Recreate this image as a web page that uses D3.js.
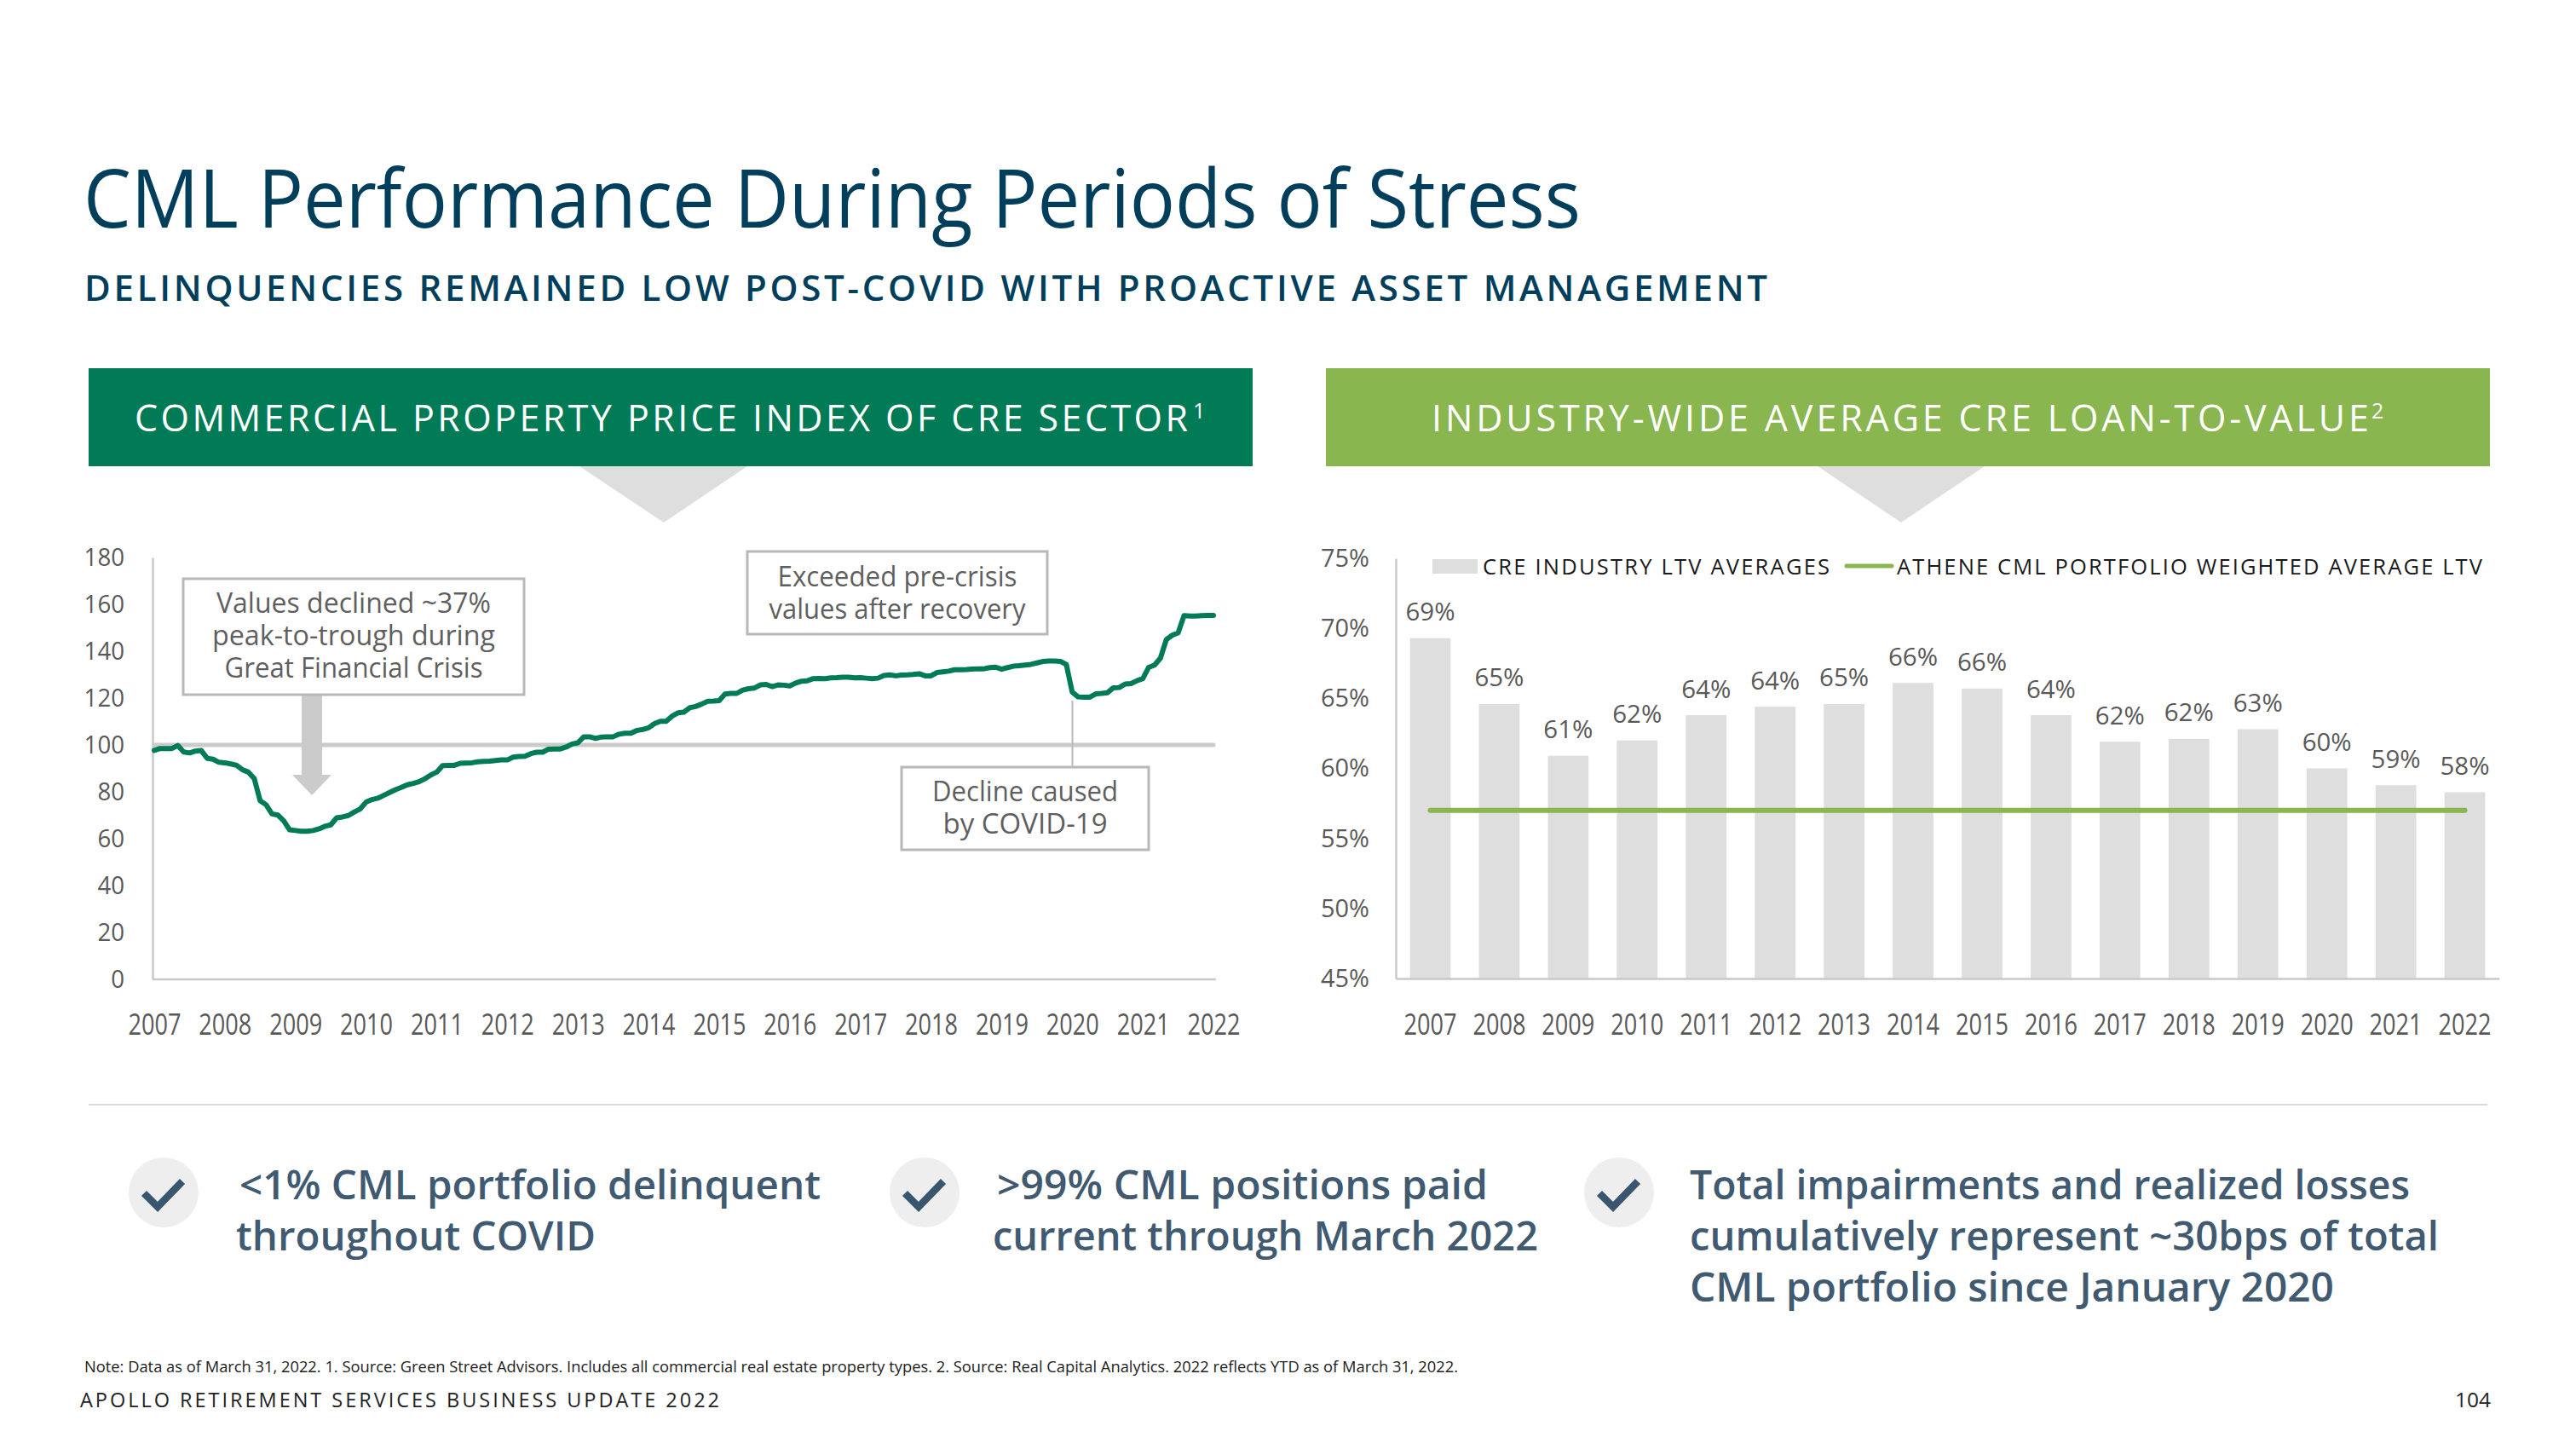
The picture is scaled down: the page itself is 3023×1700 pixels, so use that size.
<!DOCTYPE html>
<html><head><meta charset="utf-8">
<script src="https://cdn.jsdelivr.net/npm/d3@7/dist/d3.min.js"></script>
<style>html,body{margin:0;padding:0;background:#fff}svg{display:block}text{font-family:"Open Sans",sans-serif}</style>
</head><body><svg id="c" width="3023" height="1700" viewBox="0 0 3023 1700"></svg>
<script>
const years = ["2007","2008","2009","2010","2011","2012","2013","2014","2015","2016","2017","2018","2019","2020","2021","2022"];
const priceTicks = [0,20,40,60,80,100,120,140,160,180];
const ltvTicks = [45,50,55,60,65,70,75];
// Commercial property price index, one reading per month from Jan 2007
const priceIndex = [
 97.7,98.5,98.5,98.5,99.8,97.0,96.6,97.4,97.6,94.3,93.9,92.6,
 92.4,91.9,91.3,89.4,88.4,85.6,76.2,74.5,70.6,70.1,67.7,63.8,
 63.5,63.2,63.2,63.5,64.2,65.3,65.9,68.9,69.3,69.9,71.4,72.7,
 75.6,76.7,77.3,78.5,79.7,80.9,81.9,83.0,83.6,84.3,85.6,87.2,
 88.4,91.2,91.3,91.3,92.2,92.3,92.4,92.8,93.0,93.1,93.4,93.6,
 93.6,94.8,95.1,95.2,96.3,96.9,96.9,98.2,98.3,98.3,99.1,100.4,
 100.9,103.5,103.5,102.8,103.4,103.5,103.5,104.6,105.0,105.0,106.2,106.6,
 107.3,109.1,110.1,110.1,112.3,113.7,114.0,115.9,116.4,117.4,118.6,118.7,
 118.9,121.7,122.0,122.0,123.4,124.0,124.3,125.6,125.8,124.9,125.6,125.5,
 125.2,126.4,127.2,127.4,128.3,128.4,128.3,128.6,128.7,128.9,128.9,128.6,
 128.7,128.5,128.3,128.5,129.6,129.9,129.5,129.8,129.9,130.1,130.4,129.5,
 129.5,130.9,131.2,131.5,132.1,132.1,132.2,132.4,132.5,132.5,133.0,133.2,
 132.3,133.0,133.6,133.8,134.1,134.4,135.0,135.6,135.8,135.8,135.65,134.3,
 122.6,120.5,120.4,120.4,121.8,122.0,122.3,124.4,124.5,126.0,126.2,127.4,
 128.3,133.1,134.1,137.1,145.0,146.8,147.8,155.2,155.0,155.0,155.2,155.3,
 155.3];
const priceBaseline = 100;
const ltvAverages = [69.3,64.6,60.9,62.0,63.8,64.4,64.6,66.1,65.7,63.8,61.9,62.1,62.8,60.0,58.8,58.3];
const ltvLabels = ["69%","65%","61%","62%","64%","64%","65%","66%","66%","64%","62%","62%","63%","60%","59%","58%"];
const atheneLtv = 57;

const svg = d3.select("#c");
const NAVY="#003f5c", SLATE="#3f5a71", GREY="#595959", GREEN="#007b55", LIME="#8ab64f", LIGHT="#dedede", BOX="#b8b8b8", AXIS="#c9c9c9";
const FONT='"Open Sans",sans-serif';

function txt(s,x,y,o={}){
  const t = svg.append("text").attr("x",x).attr("y",y).text(s)
    .attr("font-size",o.size||28).attr("fill",o.fill||GREY).attr("font-weight",o.weight||400)
    .attr("text-anchor",o.anchor||"start");
  if(o.len){t.attr("textLength",o.len).attr("lengthAdjust",o.adjust||"spacingAndGlyphs");}
  return t;
}
function styleTicks(sel,size,width,weight){
  sel.selectAll("text").attr("font-size",size).attr("fill",GREY).attr("font-family",FONT).attr("font-weight",weight)
    .attr("lengthAdjust","spacingAndGlyphs").attr("textLength",function(){return width(this.textContent);});
}
// Title block
txt("CML Performance During Periods of Stress",98,267,{size:96,fill:NAVY,len:1757});
txt("DELINQUENCIES REMAINED LOW POST-COVID WITH PROACTIVE ASSET MANAGEMENT",99,353,{size:42,fill:NAVY,weight:600,len:1975,adjust:"spacing"});

// Panel headers
svg.append("path").attr("d","M680,547H877L779,613Z").attr("fill",LIGHT);
svg.append("path").attr("d","M2133,547H2329L2231,613Z").attr("fill",LIGHT);
svg.append("rect").attr("x",104).attr("y",432).attr("width",1366).attr("height",115).attr("fill",GREEN);
svg.append("rect").attr("x",1556).attr("y",432).attr("width",1366).attr("height",115).attr("fill",LIME);
txt("COMMERCIAL PROPERTY PRICE INDEX OF CRE SECTOR",158,506,{size:43,fill:"#fff",weight:500,len:1236,adjust:"spacing"});
txt("1",1400,491,{size:25,fill:"#fff"});
txt("INDUSTRY-WIDE AVERAGE CRE LOAN-TO-VALUE",1680,506,{size:43,fill:"#fff",weight:500,len:1100,adjust:"spacing"});
txt("2",2783,491,{size:25,fill:"#fff"});

// Left chart
const xL = d3.scaleLinear().domain([0,180]).range([181,1424]);
const yL = d3.scaleLinear().domain([0,180]).range([1149,654]);
const axL = svg.append("g").attr("transform","translate(179,0)")
  .call(d3.axisLeft(yL).tickValues(priceTicks).tickSize(0).tickPadding(33));
axL.select(".domain").attr("stroke",AXIS).attr("stroke-width",2.5);
styleTicks(axL,29.5,s=>s.length*15.8,400);
const axLB = svg.append("g").attr("transform","translate(0,1149)")
  .call(d3.axisBottom(xL).tickValues(years.map((d,i)=>i*12)).tickFormat((d,i)=>years[i]).tickSize(0).tickPadding(41));
axLB.select(".domain").attr("d","M179,0H1427").attr("stroke",AXIS).attr("stroke-width",2.5);
styleTicks(axLB,34,()=>62,400);

svg.append("line").attr("x1",xL(0)).attr("x2",xL(180)).attr("y1",yL(priceBaseline)).attr("y2",yL(priceBaseline))
  .attr("stroke","#cbcbcb").attr("stroke-width",5).attr("stroke-linecap","round");
// Arrow into the trough
svg.append("path").attr("d","M354,815H378V909H389L366,933L343,909H354Z").attr("fill","#cbcbcb");
// COVID connector
svg.append("line").attr("x1",1258.5).attr("x2",1258.5).attr("y1",822).attr("y2",900).attr("stroke",BOX).attr("stroke-width",2);

svg.append("path").datum(priceIndex)
  .attr("d",d3.line().x((d,i)=>xL(i)).y(d=>yL(d)))
  .attr("fill","none").attr("stroke",GREEN).attr("stroke-width",6)
  .attr("stroke-linejoin","round").attr("stroke-linecap","round");

function callout(x,y,w,h,lines,base){
  svg.append("rect").attr("x",x).attr("y",y).attr("width",w).attr("height",h)
    .attr("fill","#fff").attr("stroke",BOX).attr("stroke-width",3);
  lines.forEach((l,i)=>txt(l[0],x+w/2,base+i*38,{size:32,anchor:"middle",fill:"#5f5f5f",len:l[1]}));
}
callout(215,679,400,136,[["Values declined ~37%",322],["peak-to-trough during",332],["Great Financial Crisis",303]],719);
callout(877,647,352,97,[["Exceeded pre-crisis",281],["values after recovery",301]],688);
callout(1058,900,290,97,[["Decline caused",218],["by COVID-19",193]],940);

// Right chart
const xR = d3.scaleBand().domain(years).range([1638,2933]).paddingInner(0.41).paddingOuter(0.205);
const yR = d3.scaleLinear().domain([45,75]).range([1148,655]);
svg.selectAll("rect.bar").data(ltvAverages).join("rect").attr("class","bar")
  .attr("x",(d,i)=>xR(years[i])).attr("width",xR.bandwidth())
  .attr("y",d=>yR(d)).attr("height",d=>yR(45)-yR(d)).attr("fill",LIGHT);
const axR = svg.append("g").attr("transform","translate(1638,0)")
  .call(d3.axisLeft(yR).tickValues(ltvTicks).tickFormat(d=>d+"%").tickSize(0).tickPadding(31));
axR.select(".domain").attr("stroke",AXIS).attr("stroke-width",2.5);
styleTicks(axR,29.5,()=>57,400);
const axRB = svg.append("g").attr("transform","translate(0,1148)")
  .call(d3.axisBottom(xR).tickSize(0).tickPadding(42));
axRB.select(".domain").attr("stroke",AXIS).attr("stroke-width",2.5);
styleTicks(axRB,34,()=>62,400);
svg.append("line").attr("x1",xR(years[0])+xR.bandwidth()/2).attr("x2",xR(years[15])+xR.bandwidth()/2)
  .attr("y1",yR(atheneLtv)).attr("y2",yR(atheneLtv)).attr("stroke",LIME).attr("stroke-width",6).attr("stroke-linecap","round");
svg.selectAll("text.val").data(ltvAverages).join("text").attr("class","val")
  .attr("x",(d,i)=>xR(years[i])+xR.bandwidth()/2).attr("y",d=>yR(d)-20.5)
  .attr("text-anchor","middle").attr("font-size",30).attr("font-weight",500).attr("fill",GREY)
  .attr("textLength",58).attr("lengthAdjust","spacingAndGlyphs")
  .text((d,i)=>ltvLabels[i]);
// Legend
svg.append("rect").attr("x",1681).attr("y",656).attr("width",53).attr("height",17).attr("fill",LIGHT);
txt("CRE INDUSTRY LTV AVERAGES",1740,674,{size:25.5,fill:"#1a1a1a",len:407,adjust:"spacing"});
svg.append("line").attr("x1",2167).attr("x2",2220).attr("y1",664).attr("y2",664).attr("stroke",LIME).attr("stroke-width",5).attr("stroke-linecap","round");
txt("ATHENE CML PORTFOLIO WEIGHTED AVERAGE LTV",2226,674,{size:25.5,fill:"#1a1a1a",len:687,adjust:"spacing"});

// Separator
svg.append("line").attr("x1",104).attr("x2",2919).attr("y1",1296).attr("y2",1296).attr("stroke","#d9d9d9").attr("stroke-width",2);

// Takeaways
[[192,[["<1% CML portfolio delinquent",281,682],["throughout COVID",277,422]]],
 [1085,[[">99% CML positions paid",1170,576],["current through March 2022",1165,640]]],
 [1900,[["Total impairments and realized losses",1983,845],["cumulatively represent ~30bps of total",1983,879],["CML portfolio since January 2020",1983,756]]]
].forEach(([cx,lines])=>{
  svg.append("circle").attr("cx",cx).attr("cy",1399).attr("r",41).attr("fill","#eeeeee");
  svg.append("path").attr("d",`M${cx-23},1400L${cx-7},1416L${cx+22},1386`).attr("fill","none").attr("stroke","#3a566e").attr("stroke-width",8.5);
  lines.forEach((l,i)=>txt(l[0],l[1],1407+i*60,{size:47,fill:SLATE,weight:600,len:l[2]}));
});

// Footer
txt("Note: Data as of March 31, 2022. 1. Source: Green Street Advisors. Includes all commercial real estate property types. 2. Source: Real Capital Analytics. 2022 reflects YTD as of March 31, 2022.",99,1610,{size:17.5,fill:"#222",len:1612});
txt("APOLLO RETIREMENT SERVICES BUSINESS UPDATE 2022",94,1651,{size:23.5,fill:"#222",weight:400,len:750,adjust:"spacing"});
txt("104",2881,1651,{size:23.5,fill:"#222",len:42});
</script></body></html>
